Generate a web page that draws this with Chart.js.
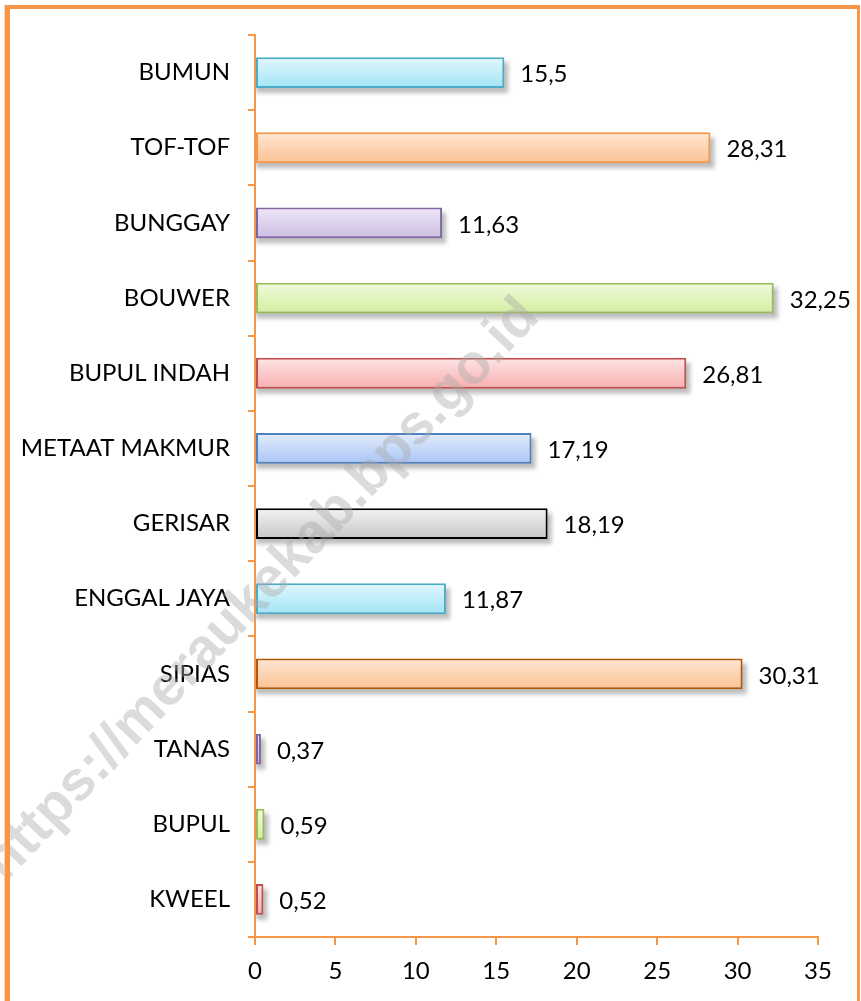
<!DOCTYPE html>
<html>
<head>
<meta charset="utf-8">
<script src="https://cdn.jsdelivr.net/npm/chart.js@4.4.1/dist/chart.umd.min.js"></script>
<style>
  html, body { margin: 0; padding: 0; background: #fff; }
  #wrap { position: absolute; left: 0; top: 0; width: 861px; height: 1001px; }
  .bd { position: absolute; background: #F79646; }
</style>
</head>
<body>
<div id="wrap">
  <canvas id="c" width="861" height="1001"></canvas>
  <div class="bd" style="left:5px;top:5px;width:5px;height:996px;box-shadow:-1px 0 0 #fcd3b0;"></div>
  <div class="bd" style="left:5px;top:5px;width:855px;height:4px;"></div>
  <div class="bd" style="left:857px;top:5px;width:3px;height:996px;"></div>
</div>
<script>
// ---- data ----
const categories = ['BUMUN', 'TOF-TOF', 'BUNGGAY', 'BOUWER', 'BUPUL INDAH', 'METAAT MAKMUR',
                    'GERISAR', 'ENGGAL JAYA', 'SIPIAS', 'TANAS', 'BUPUL', 'KWEEL'];
const values = [15.5, 28.31, 11.63, 32.25, 26.81, 17.19, 18.19, 11.87, 30.31, 0.37, 0.59, 0.52];
const xTickValues = [0, 5, 10, 15, 20, 25, 30, 35];
const watermarkText = 'https://meraukekab.bps.go.id';

// ---- styles ----
const borderColors = ['#4BACC6', '#F79646', '#8064A2', '#9BBB59', '#C0504D', '#4F81BD',
                      '#000000', '#4BACC6', '#B65708', '#8064A2', '#9BBB59', '#C0504D'];
const fillTop =    ['#E2F6FC', '#FEE6D3', '#EDE7F5', '#F0FADC', '#FEE4E4', '#E3ECFC',
                    '#F3F3F3', '#E2F6FC', '#FEE6D3', '#EDE7F5', '#F0FADC', '#FEE4E4'];
const fillBottom = ['#A2E4F7', '#FBC293', '#CCBDE3', '#D2EFA0', '#F7AEAE', '#A9C4F6',
                    '#C6C6C6', '#A2E4F7', '#FBC293', '#CCBDE3', '#D2EFA0', '#F7AEAE'];
const ORANGE = '#F79646';
const FONT = 'Lato, "Open Sans", sans-serif';
const FONT_SIZE = 24;
const BAR_FRAC = 0.41;

const fmt = v => String(v).replace('.', ',');

const shadowPlugin = {
  id: 'barShadow',
  beforeDatasetsDraw(chart) {
    const { ctx, chartArea } = chart;
    const meta = chart.getDatasetMeta(0);
    ctx.save();
    ctx.beginPath();
    ctx.rect(chartArea.left + 1, chartArea.top, chartArea.width + 40, chartArea.height);
    ctx.clip();
    ctx.filter = 'blur(2px)';
    ctx.fillStyle = 'rgba(0,0,0,0.26)';
    meta.data.forEach(el => {
      const p = el.getProps(['x', 'y', 'base', 'height'], true);
      ctx.fillRect(p.base, p.y - p.height / 2 + 5, p.x - p.base + 4, p.height);
    });
    ctx.restore();
  }
};

const labelPlugin = {
  id: 'valueLabels',
  afterDatasetsDraw(chart) {
    const { ctx } = chart;
    const meta = chart.getDatasetMeta(0);
    ctx.save();
    ctx.font = FONT_SIZE + 'px ' + FONT;
    ctx.fillStyle = '#000';
    ctx.textAlign = 'left';
    ctx.textBaseline = 'middle';
    meta.data.forEach((el, i) => {
      const p = el.getProps(['x', 'y'], true);
      ctx.fillText(fmt(values[i]), p.x + 16, p.y + 2);
    });
    ctx.restore();
  }
};

const watermarkPlugin = {
  id: 'watermark',
  afterDraw(chart) {
    const { ctx } = chart;
    ctx.save();
    ctx.translate(262, 590);
    ctx.rotate(-46.5 * Math.PI / 180);
    ctx.font = 'bold 56px "Liberation Sans", Arial, sans-serif';
    ctx.fillStyle = 'rgba(170,170,170,0.42)';
    ctx.textAlign = 'center';
    ctx.textBaseline = 'middle';
    ctx.fillText(watermarkText, 0, 0);
    ctx.restore();
  }
};

new Chart(document.getElementById('c'), {
  type: 'bar',
  data: {
    labels: categories,
    datasets: [{
      data: values,
      borderColor: borderColors,
      borderWidth: 2,
      borderSkipped: false,
      categoryPercentage: 1,
      barPercentage: BAR_FRAC,
      backgroundColor: (c) => {
        const chart = c.chart;
        if (!chart.chartArea || c.type !== 'data') return fillBottom[c.dataIndex];
        const ys = chart.scales.y;
        const y = ys.getPixelForValue(c.dataIndex);
        const h = ys.height / categories.length * BAR_FRAC;
        const g = chart.ctx.createLinearGradient(0, y - h / 2, 0, y + h / 2);
        g.addColorStop(0, fillTop[c.dataIndex]);
        g.addColorStop(1, fillBottom[c.dataIndex]);
        return g;
      }
    }]
  },
  options: {
    indexAxis: 'y',
    responsive: false,
    devicePixelRatio: 1,
    animation: false,
    events: [],
    layout: { padding: { left: 0, top: 35, right: 43, bottom: 0 } },
    plugins: { legend: { display: false }, tooltip: { enabled: false }, title: { display: false } },
    scales: {
      x: {
        type: 'linear',
        min: 0, max: 35,
        afterBuildTicks: (s) => { s.ticks = xTickValues.map(v => ({ value: v })); },
        afterFit: (s) => { s.height = 64; },
        grid: { drawOnChartArea: false, drawTicks: true, tickLength: 8, color: ORANGE, lineWidth: 2 },
        border: { display: true, color: ORANGE, width: 2 },
        ticks: { color: '#000', font: { family: FONT, size: FONT_SIZE }, padding: 12, maxRotation: 0 }
      },
      y: {
        type: 'category',
        afterFit: (s) => { s.width = 255; },
        grid: { offset: true, drawOnChartArea: false, drawTicks: true, tickLength: 7, color: ORANGE, lineWidth: 2 },
        border: { display: true, color: ORANGE, width: 2 },
        ticks: { color: '#000', font: { family: FONT, size: FONT_SIZE }, padding: 18, autoSkip: false }
      }
    }
  },
  plugins: [shadowPlugin, labelPlugin, watermarkPlugin]
});
</script>
</body>
</html>
